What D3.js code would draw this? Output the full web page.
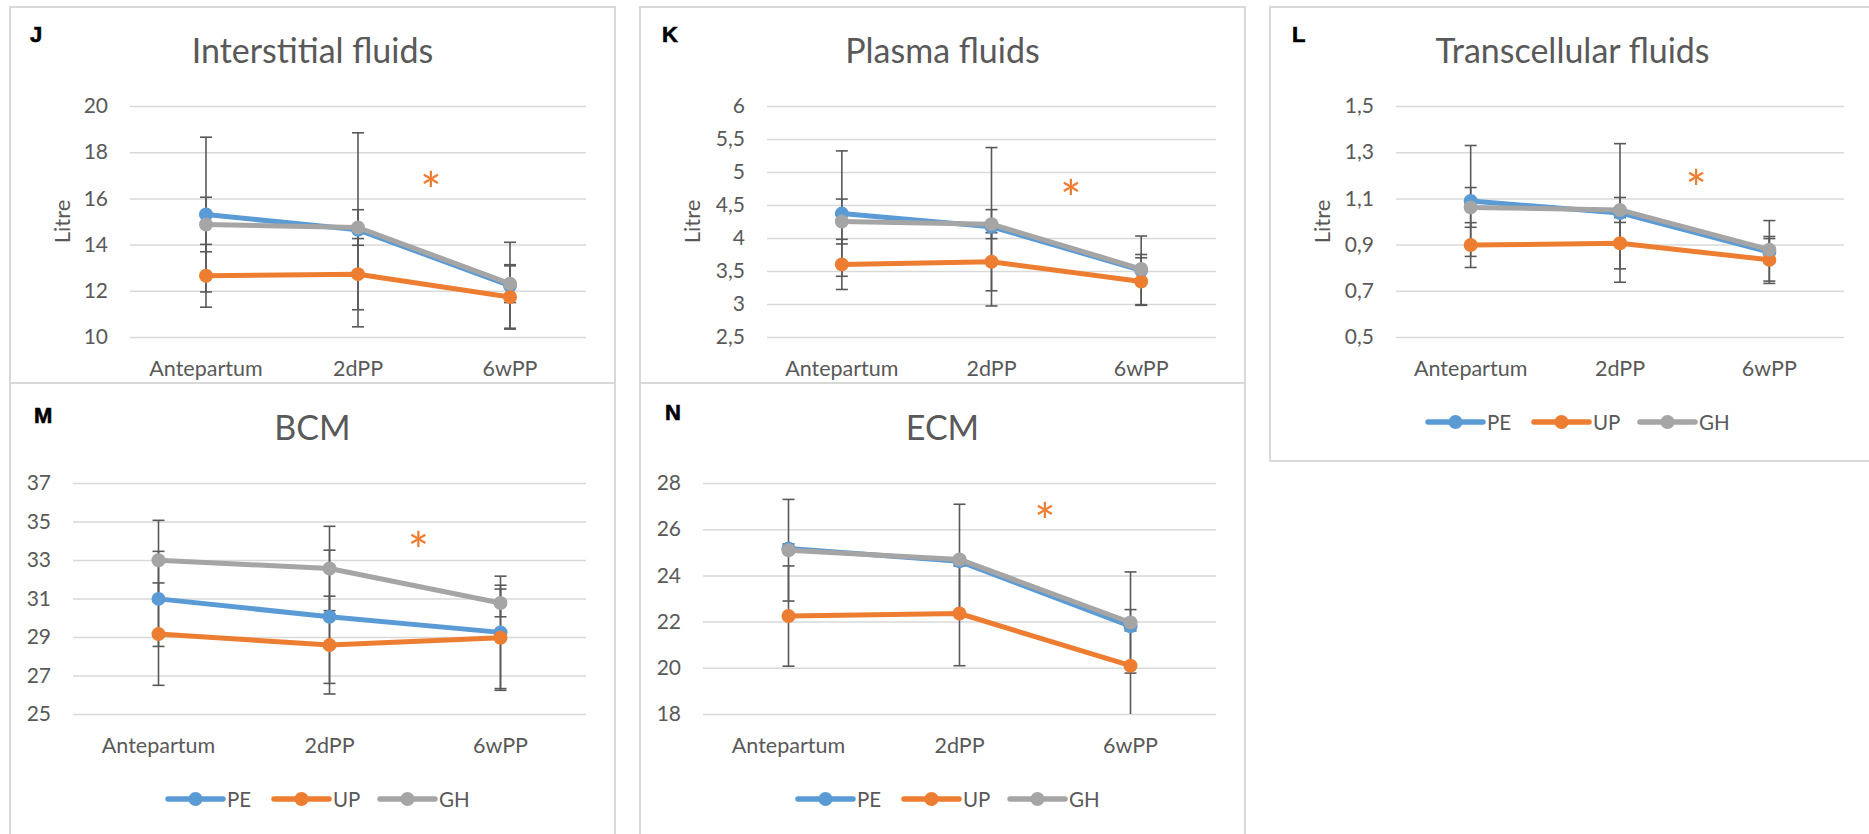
<!DOCTYPE html>
<html>
<head>
<meta charset="utf-8">
<script src="https://cdn.jsdelivr.net/npm/d3@7"></script>
<style>
  html, body { margin: 0; padding: 0; background: #ffffff; }
  svg { display: block; font-family: Lato, "Open Sans", sans-serif; }
</style>
</head>
<body>
<svg id="chart" width="1869" height="834"></svg>
<script>
// ---- data ----------------------------------------------------------------
const categories = ["Antepartum", "2dPP", "6wPP"];
const groups = ["PE", "UP", "GH"];

// rows follow `groups` (PE, UP, GH); columns follow `categories`
const interstitialMeans  = [[15.30, 14.64, 12.22], [12.65, 12.72, 11.73], [14.87, 14.74, 12.31]];
const interstitialErrors = [[3.35, 4.20, 1.88], [1.36, 1.54, 1.35], [1.18, 0.77, 0.82]];
const interstitialTicks  = [10, 12, 14, 16, 18, 20];

const plasmaMeans  = [[4.37, 4.17, 3.51], [3.60, 3.64, 3.34], [4.25, 4.21, 3.53]];
const plasmaErrors = [[0.95, 1.20, 0.52], [0.38, 0.44, 0.36], [0.34, 0.22, 0.22]];
const plasmaTicks  = [2.5, 3, 3.5, 4, 4.5, 5, 5.5, 6];

const transcellularMeans  = [[1.089, 1.037, 0.868], [0.898, 0.906, 0.834], [1.061, 1.050, 0.878]];
const transcellularErrors = [[0.240, 0.300, 0.136], [0.097, 0.111, 0.092], [0.086, 0.054, 0.057]];
const transcellularTicks  = [0.5, 0.7, 0.9, 1.1, 1.3, 1.5];

const bcmMeans  = [[30.98, 30.05, 29.24], [29.15, 28.58, 28.96], [32.99, 32.56, 30.77]];
const bcmErrors = [[2.47, 3.46, 2.92], [2.66, 2.54, 2.73], [2.07, 2.19, 0.72]];
const bcmTicks  = [25, 27, 29, 31, 33, 35, 37];

const ecmMeans  = [[25.16, 24.61, 21.80], [22.24, 22.35, 20.09], [25.09, 24.69, 21.96]];
const ecmErrors = [[0.20, 0.20, 0.20], [2.17, 2.26, 2.43], [2.20, 2.39, 2.19]];
const ecmTicks  = [18, 20, 22, 24, 26, 28];

// significance marker: value on the y axis and fraction of the way from 2dPP to 6wPP
const interstitialStar  = [16.71, 0.48];
const plasmaStar        = [4.73, 0.53];
const transcellularStar = [1.18, 0.51];
const bcmStar           = [33.94, 0.52];
const ecmStar           = [26.70, 0.50];

// ---- styling ---------------------------------------------------------------
const groupColors = ["#5B9BD5", "#ED7D31", "#A5A5A5"];
const textGrey = "#595959";
const gridGrey = "#D9D9D9";
const commaFormat = d3.formatLocale({ decimal: ",", thousands: " ", grouping: [3], currency: ["", ""] }).format("~r");

const panels = [
  { letter: "J", title: "Interstitial fluids", means: interstitialMeans, errors: interstitialErrors, ticks: interstitialTicks, star: interstitialStar,
    box: [10, 7, 605, 376], plot: [130, 586, 106, 337], letterPos: [30, 42], titleY: 63, unit: true, legend: false },
  { letter: "K", title: "Plasma fluids", means: plasmaMeans, errors: plasmaErrors, ticks: plasmaTicks, star: plasmaStar,
    box: [640, 7, 605, 376], plot: [767, 1216, 106, 337], letterPos: [662, 42], titleY: 63, unit: true, legend: false },
  { letter: "L", title: "Transcellular fluids", means: transcellularMeans, errors: transcellularErrors, ticks: transcellularTicks, star: transcellularStar,
    box: [1270, 7, 605, 454], plot: [1396, 1844, 106, 337], letterPos: [1292, 42], titleY: 63, unit: true, legend: true },
  { letter: "M", title: "BCM", means: bcmMeans, errors: bcmErrors, ticks: bcmTicks, star: bcmStar,
    box: [10, 383, 605, 470], plot: [73, 586, 483, 714], letterPos: [34, 423], titleY: 440, unit: false, legend: true },
  { letter: "N", title: "ECM", means: ecmMeans, errors: ecmErrors, ticks: ecmTicks, star: ecmStar,
    box: [640, 383, 605, 470], plot: [703, 1216, 483, 714], letterPos: [665, 420], titleY: 440, unit: false, legend: true }
];

const svg = d3.select("#chart");

panels.forEach((p, pi) => {
  const [bx, by, bw, bh] = p.box;
  const [pl, pr, pt, pb] = p.plot;
  const g = svg.append("g");

  // frame
  g.append("rect")
    .attr("x", bx).attr("y", by).attr("width", bw).attr("height", bh)
    .attr("fill", "none").attr("stroke", gridGrey).attr("stroke-width", 2);

  const x = d3.scaleBand().domain(categories).range([pl, pr]);
  const y = d3.scaleLinear().domain(d3.extent(p.ticks)).range([pb, pt]);
  const cx = c => x(c) + x.bandwidth() / 2;

  // horizontal gridlines + value labels
  const yAxis = g.append("g")
    .attr("transform", `translate(${pl},0)`)
    .call(d3.axisLeft(y).tickValues(p.ticks).tickFormat(commaFormat)
      .tickSize(-(pr - pl)).tickPadding(22));
  yAxis.select(".domain").remove();
  yAxis.selectAll(".tick line").attr("stroke", gridGrey).attr("stroke-width", 1.5);
  yAxis.selectAll(".tick text")
    .attr("fill", textGrey).attr("font-size", 21).attr("font-family", "Lato, sans-serif");

  // category labels
  const xAxis = g.append("g")
    .attr("transform", `translate(0,${pb})`)
    .call(d3.axisBottom(x).tickSize(0));
  xAxis.select(".domain").remove();
  xAxis.selectAll(".tick text")
    .attr("dy", null).attr("y", 39)
    .attr("fill", textGrey).attr("font-size", 21.5).attr("font-family", "Lato, sans-serif");

  // title and panel letter
  g.append("text")
    .attr("x", bx + bw / 2).attr("y", p.titleY)
    .attr("text-anchor", "middle").attr("fill", textGrey)
    .attr("font-size", 34).text(p.title);
  g.append("text")
    .attr("x", p.letterPos[0]).attr("y", p.letterPos[1])
    .attr("font-family", "'Liberation Sans', Arial, sans-serif")
    .attr("font-weight", "bold").attr("font-size", 22).attr("fill", "#000")
    .attr("stroke", "#000").attr("stroke-width", 0.6)
    .text(p.letter);

  if (p.unit) {
    g.append("text")
      .attr("transform", `translate(${bx + 51},${(pt + pb) / 2}) rotate(-90)`)
      .attr("text-anchor", "middle").attr("dominant-baseline", "central")
      .attr("fill", textGrey).attr("font-size", 22).text("Litre");
  }

  // clip error bars to plot area
  const clipId = "clip" + pi;
  svg.append("clipPath").attr("id", clipId)
    .append("rect").attr("x", pl - 20).attr("y", pt).attr("width", pr - pl + 40).attr("height", pb - pt);

  const eb = g.append("g").attr("clip-path", `url(#${clipId})`)
    .attr("stroke", "#595959").attr("stroke-width", 1.6);
  groups.forEach((grp, gi) => {
    categories.forEach((c, ci) => {
      const m = p.means[gi][ci], e = p.errors[gi][ci];
      const xc = cx(c);
      eb.append("line").attr("x1", xc).attr("x2", xc).attr("y1", y(m - e)).attr("y2", y(m + e));
      [m - e, m + e].forEach(v => {
        eb.append("line").attr("x1", xc - 6).attr("x2", xc + 6).attr("y1", y(v)).attr("y2", y(v));
      });
    });
  });

  // series lines and markers
  const line = d3.line().x((d, i) => cx(categories[i])).y(d => y(d));
  groups.forEach((grp, gi) => {
    g.append("path")
      .attr("d", line(p.means[gi]))
      .attr("fill", "none").attr("stroke", groupColors[gi])
      .attr("stroke-width", 5).attr("stroke-linejoin", "round").attr("stroke-linecap", "round");
    g.selectAll(null).data(p.means[gi]).enter().append("circle")
      .attr("cx", (d, i) => cx(categories[i])).attr("cy", d => y(d))
      .attr("r", 7).attr("fill", groupColors[gi]);
  });

  // significance asterisk
  const sx = cx("2dPP") + p.star[1] * x.step();
  g.append("text")
    .attr("x", sx).attr("y", y(p.star[0]) + 27)
    .attr("text-anchor", "middle").attr("fill", "#ED7D31")
    .attr("font-size", 50).text("*");

  // legend
  if (p.legend) {
    const ly = pb + 85;
    const lx0 = bx + 158;
    groups.forEach((grp, gi) => {
      const lx = lx0 + gi * 106;
      g.append("line").attr("x1", lx).attr("x2", lx + 55).attr("y1", ly).attr("y2", ly)
        .attr("stroke", groupColors[gi]).attr("stroke-width", 5.5).attr("stroke-linecap", "round");
      g.append("circle").attr("cx", lx + 27.5).attr("cy", ly).attr("r", 7).attr("fill", groupColors[gi]);
      g.append("text").attr("x", lx + 59).attr("y", ly).attr("dominant-baseline", "central")
        .attr("fill", textGrey).attr("font-size", 20.5).text(grp);
    });
  }
});
</script>
</body>
</html>
